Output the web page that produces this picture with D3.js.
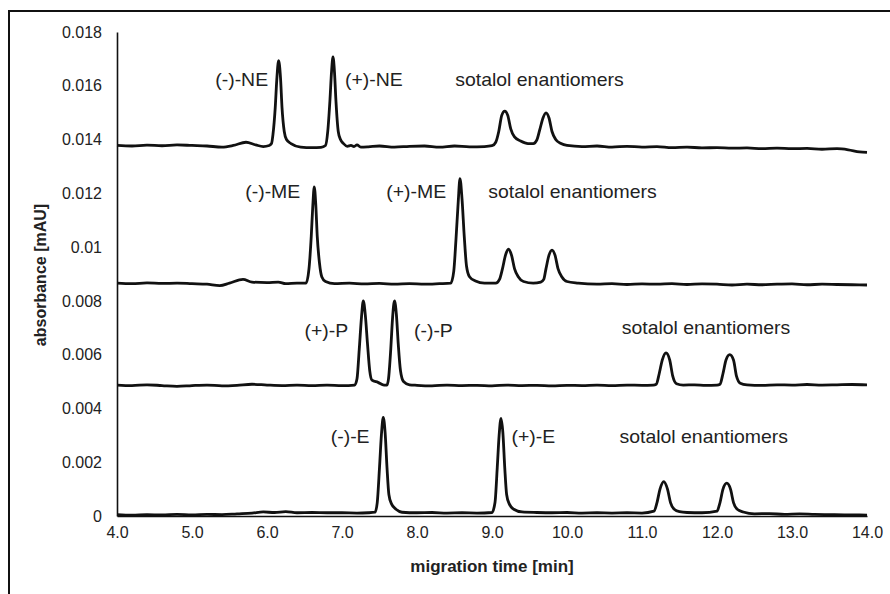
<!DOCTYPE html>
<html>
<head>
<meta charset="utf-8">
<script src="https://cdn.jsdelivr.net/npm/d3@7"></script>
<style>
  body { margin: 0; background: #fff; }
  text { font-family: "Liberation Sans", Arial, sans-serif; fill: #222; }
</style>
</head>
<body>
<script>
// migration time [min] vs absorbance
const xTicks = [4, 5, 6, 7, 8, 9, 10, 11, 12, 13, 14];
const yTicks = [0, 0.002, 0.004, 0.006, 0.008, 0.01, 0.012, 0.014, 0.016, 0.018];
const yTickLabels = ['0', '0.002', '0.004', '0.006', '0.008', '0.01', '0.012', '0.014', '0.016', '0.018'];

const traceNE = [
  [4.0, 0.01378], [4.2, 0.01376], [4.4, 0.01379], [4.6, 0.01377], [4.8, 0.01380], [5.0, 0.01378],
  [5.2, 0.01376], [5.4, 0.01372], [5.55, 0.01378], [5.72, 0.01390], [5.85, 0.01380], [5.95, 0.01374],
  [6.03, 0.01378], [6.06, 0.01385], [6.08, 0.0142], [6.11, 0.0152], [6.13, 0.0162], [6.155, 0.01693],
  [6.18, 0.0163], [6.20, 0.0152], [6.23, 0.0143], [6.26, 0.0140], [6.32, 0.01385], [6.45, 0.01372],
  [6.6, 0.01370], [6.72, 0.01371], [6.78, 0.01378], [6.81, 0.0143], [6.84, 0.0155], [6.86, 0.0165],
  [6.88, 0.01707], [6.90, 0.0165], [6.92, 0.0154], [6.95, 0.0143], [6.98, 0.0140], [7.02, 0.01385],
  [7.07, 0.01375], [7.12, 0.01378], [7.16, 0.01374], [7.2, 0.01380], [7.25, 0.01372], [7.35, 0.01373],
  [7.5, 0.01376], [7.7, 0.01372], [7.9, 0.01375], [8.1, 0.01376], [8.3, 0.01372], [8.5, 0.01376],
  [8.7, 0.01373], [8.9, 0.01374], [9.0, 0.01377], [9.05, 0.0139], [9.09, 0.0143], [9.13, 0.0149],
  [9.17, 0.01506], [9.21, 0.0149], [9.25, 0.0144], [9.30, 0.0141], [9.38, 0.01395], [9.48, 0.01385],
  [9.55, 0.01385], [9.60, 0.0140], [9.64, 0.0144], [9.68, 0.0148], [9.72, 0.01499], [9.76, 0.0148],
  [9.80, 0.0143], [9.85, 0.0140], [9.92, 0.01385], [10.0, 0.01378], [10.2, 0.01374], [10.4, 0.01376],
  [10.6, 0.01372], [10.8, 0.01375], [11.0, 0.01372], [11.2, 0.01374], [11.4, 0.01370], [11.6, 0.01372],
  [11.8, 0.01369], [12.0, 0.01370], [12.2, 0.01368], [12.4, 0.01369], [12.6, 0.01366], [12.8, 0.01368],
  [13.0, 0.01366], [13.2, 0.01367], [13.4, 0.01364], [13.6, 0.01366], [13.75, 0.01362], [13.9, 0.01354],
  [14.0, 0.01352],
];

const traceME = [
  [4.0, 0.00866], [4.2, 0.00864], [4.4, 0.00867], [4.6, 0.00865], [4.8, 0.00866], [5.0, 0.00864],
  [5.2, 0.00862], [5.37, 0.00857], [5.5, 0.00866], [5.68, 0.00880], [5.8, 0.00870], [6.0, 0.00868],
  [6.15, 0.00870], [6.25, 0.00864], [6.4, 0.00866], [6.52, 0.00866], [6.56, 0.0092], [6.59, 0.0104],
  [6.61, 0.0115], [6.63, 0.01224], [6.65, 0.0116], [6.67, 0.0104], [6.70, 0.0094], [6.73, 0.0089],
  [6.78, 0.00872], [6.9, 0.00864], [7.1, 0.00866], [7.3, 0.00863], [7.5, 0.00865], [7.7, 0.00862],
  [7.9, 0.00864], [8.1, 0.00862], [8.3, 0.00864], [8.45, 0.00866], [8.49, 0.0091], [8.52, 0.0103],
  [8.55, 0.0117], [8.573, 0.01255], [8.60, 0.0118], [8.63, 0.0104], [8.66, 0.0093], [8.70, 0.0089],
  [8.78, 0.00874], [8.9, 0.00866], [9.05, 0.00866], [9.10, 0.0088], [9.14, 0.0092], [9.18, 0.0097],
  [9.22, 0.00992], [9.26, 0.0097], [9.30, 0.0092], [9.35, 0.0089], [9.42, 0.00872], [9.55, 0.00866],
  [9.65, 0.00870], [9.69, 0.0088], [9.72, 0.0092], [9.76, 0.0097], [9.80, 0.00989], [9.84, 0.0097],
  [9.88, 0.0092], [9.93, 0.0089], [10.0, 0.00872], [10.15, 0.00866], [10.4, 0.00862], [10.6, 0.00864],
  [10.8, 0.00861], [11.0, 0.00863], [11.2, 0.00862], [11.4, 0.00864], [11.6, 0.00861], [11.8, 0.00863],
  [12.0, 0.00862], [12.2, 0.00859], [12.4, 0.00862], [12.6, 0.00860], [12.8, 0.00862], [13.0, 0.00863],
  [13.2, 0.00860], [13.4, 0.00862], [13.6, 0.00861], [13.8, 0.00860], [14.0, 0.00859],
];

const traceP = [
  [4.0, 0.00487], [4.2, 0.00485], [4.4, 0.00488], [4.6, 0.00485], [4.8, 0.00482], [5.0, 0.00485],
  [5.2, 0.00487], [5.4, 0.00484], [5.6, 0.00486], [5.8, 0.00490], [6.0, 0.00487], [6.2, 0.00485],
  [6.4, 0.00487], [6.6, 0.00485], [6.8, 0.00487], [7.0, 0.00485], [7.17, 0.00487], [7.20, 0.0051],
  [7.23, 0.0062], [7.26, 0.0074], [7.284, 0.0080], [7.31, 0.0075], [7.34, 0.0064], [7.37, 0.0054],
  [7.40, 0.00505], [7.48, 0.00497], [7.56, 0.00487], [7.60, 0.00487], [7.62, 0.0051], [7.65, 0.0062],
  [7.675, 0.0074], [7.70, 0.0080], [7.725, 0.0075], [7.75, 0.0064], [7.78, 0.0054], [7.82, 0.0050],
  [7.9, 0.00488], [8.0, 0.00486], [8.2, 0.00484], [8.4, 0.00487], [8.6, 0.00485], [8.8, 0.00486],
  [9.0, 0.00484], [9.2, 0.00487], [9.4, 0.00485], [9.6, 0.00486], [9.8, 0.00484], [10.0, 0.00486],
  [10.2, 0.00485], [10.4, 0.00487], [10.6, 0.00485], [10.8, 0.00487], [11.0, 0.00486], [11.15, 0.00487],
  [11.19, 0.0049], [11.23, 0.0053], [11.27, 0.0058], [11.32, 0.00607], [11.37, 0.0058], [11.41, 0.0052],
  [11.46, 0.00492], [11.55, 0.00487], [11.7, 0.00488], [11.85, 0.00486], [12.0, 0.00487], [12.04, 0.0049],
  [12.08, 0.0053], [12.12, 0.0058], [12.17, 0.0060], [12.22, 0.0058], [12.26, 0.0052], [12.31, 0.00494],
  [12.4, 0.00488], [12.6, 0.00486], [12.8, 0.00488], [13.0, 0.00487], [13.2, 0.00489], [13.4, 0.00487],
  [13.6, 0.00488], [13.8, 0.00489], [14.0, 0.00488],
];

const traceE = [
  [4.0, 0.00005], [4.2, 0.00003], [4.4, 0.00005], [4.6, 0.00004], [4.8, 0.00006], [5.0, 0.00004],
  [5.2, 0.00006], [5.4, 0.00005], [5.6, 0.00008], [5.8, 0.00011], [5.95, 0.00015], [6.1, 0.00013],
  [6.25, 0.00016], [6.4, 0.00012], [6.6, 0.00013], [6.8, 0.00012], [7.0, 0.00012], [7.2, 0.00011],
  [7.35, 0.00012], [7.44, 0.00014], [7.47, 0.0005], [7.50, 0.0018], [7.525, 0.0030], [7.55, 0.00367],
  [7.575, 0.0031], [7.60, 0.0018], [7.625, 0.0008], [7.66, 0.00045], [7.72, 0.00025], [7.8, 0.00014],
  [8.0, 0.00012], [8.2, 0.00013], [8.4, 0.00011], [8.6, 0.00012], [8.8, 0.00011], [9.0, 0.00013],
  [9.04, 0.0005], [9.07, 0.0018], [9.095, 0.0030], [9.12, 0.00363], [9.145, 0.0031], [9.17, 0.0018],
  [9.195, 0.0008], [9.23, 0.00045], [9.29, 0.00025], [9.4, 0.00015], [9.6, 0.00013], [9.8, 0.00012],
  [10.0, 0.00013], [10.2, 0.00011], [10.4, 0.00012], [10.6, 0.00011], [10.8, 0.00012], [11.0, 0.00011],
  [11.16, 0.00018], [11.2, 0.0005], [11.24, 0.0010], [11.29, 0.00128], [11.34, 0.0010], [11.38, 0.0005],
  [11.43, 0.00025], [11.5, 0.00016], [11.6, 0.00013], [11.8, 0.00012], [12.0, 0.00018], [12.04, 0.0005],
  [12.08, 0.0010], [12.13, 0.00122], [12.18, 0.0010], [12.22, 0.0005], [12.27, 0.00025], [12.35, 0.00015],
  [12.5, 0.00008], [12.7, 0.00009], [12.9, 0.00006], [13.1, 0.00008], [13.3, 0.00006], [13.5, 0.00005],
  [13.7, 0.00004], [13.9, 0.00004], [14.0, 0.00003],
];

const traces = [traceNE, traceME, traceP, traceE];

// label text with the time and absorbance where it starts (left edge, baseline)
const labels = [
  ['(-)-NE', 5.31, 0.01600], ['(+)-NE', 7.04, 0.01600], ['sotalol enantiomers', 8.51, 0.01600],
  ['(-)-ME', 5.71, 0.01182], ['(+)-ME', 7.59, 0.01182], ['sotalol enantiomers', 8.95, 0.01182],
  ['(+)-P', 6.50, 0.00666], ['(-)-P', 7.96, 0.00666], ['sotalol enantiomers', 10.73, 0.00676],
  ['(-)-E', 6.85, 0.00270], ['(+)-E', 9.26, 0.00270], ['sotalol enantiomers', 10.70, 0.00270],
];

function main() {
  const width = 890;
  const height = 594;
  const svg = d3.select('body').append('svg')
    .attr('width', width)
    .attr('height', height);

  // outer frame of the figure
  svg.append('path')
    .attr('d', 'M9,594V11H890')
    .attr('fill', 'none')
    .attr('stroke', '#111')
    .attr('stroke-width', 2);

  const x = d3.scaleLinear().domain([4, 14]).range([117, 867]);
  const y = d3.scaleLinear().domain([0, 0.018]).range([516, 32]);

  const xAxis = svg.append('g')
    .attr('transform', `translate(0,${y(0)})`)
    .call(d3.axisBottom(x).tickValues(xTicks).tickSize(0).tickPadding(11)
      .tickFormat(d3.format('.1f')));
  const yAxis = svg.append('g')
    .attr('transform', `translate(${x(4)},0)`)
    .call(d3.axisLeft(y).tickValues(yTicks).tickSize(0).tickPadding(15)
      .tickFormat((d, i) => yTickLabels[i]));

  [xAxis, yAxis].forEach(g => {
    g.select('.domain').attr('stroke', '#111').attr('stroke-width', 1.6);
    g.selectAll('text')
      .attr('font-family', '"Liberation Sans", Arial, sans-serif')
      .attr('font-size', 16)
      .attr('fill', '#222');
  });

  const line = d3.line()
    .x(d => x(d[0]))
    .y(d => y(d[1]))
    .curve(d3.curveMonotoneX);

  svg.append('g')
    .selectAll('path')
    .data(traces)
    .enter()
    .append('path')
    .attr('d', line)
    .attr('fill', 'none')
    .attr('stroke', '#111')
    .attr('stroke-width', 2.8)
    .attr('stroke-linejoin', 'round');

  // the peak labels in the picture are a bit wider than plain 18px text
  svg.append('g')
    .selectAll('text')
    .data(labels)
    .enter()
    .append('text')
    .attr('transform', d => `translate(${x(d[1])},${y(d[2])}) scale(1.08,1)`)
    .attr('font-size', 18)
    .text(d => d[0]);

  svg.append('text')
    .attr('x', 492)
    .attr('y', 572)
    .attr('text-anchor', 'middle')
    .attr('font-size', 17)
    .attr('font-weight', 'bold')
    .text('migration time [min]');

  svg.append('text')
    .attr('transform', 'translate(46,275) rotate(-90)')
    .attr('text-anchor', 'middle')
    .attr('font-size', 16)
    .attr('font-weight', 'bold')
    .text('absorbance [mAU]');
}

main();
</script>
</body>
</html>
